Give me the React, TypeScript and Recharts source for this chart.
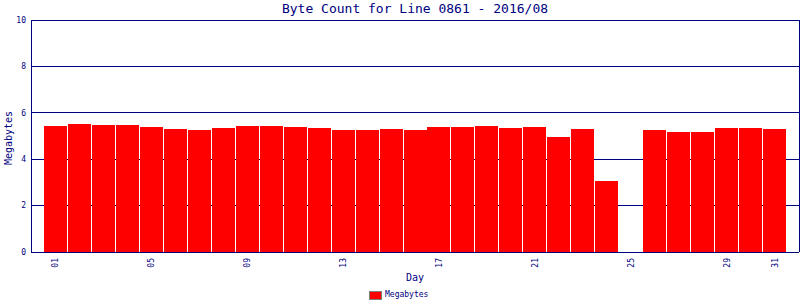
import { BarChart, Bar, XAxis, YAxis, CartesianGrid } from "recharts"

const days = [
  "01", "02", "03", "04", "05", "06", "07", "08", "09", "10",
  "11", "12", "13", "14", "15", "16", "17", "18", "19", "20",
  "21", "22", "23", "24", "25", "26", "27", "28", "29", "30", "31",
]

const megabytes = [
  5.45, 5.52, 5.47, 5.47, 5.39, 5.3, 5.26, 5.34, 5.43, 5.43,
  5.39, 5.34, 5.26, 5.26, 5.3, 5.26, 5.39, 5.39, 5.43, 5.34,
  5.39, 4.96, 5.3, 3.06, 0, 5.26, 5.17, 5.17, 5.34, 5.34, 5.3,
]

const dayTicks = ["01", "05", "09", "13", "17", "21", "25", "29", "31"]
const yTicks = [0, 2, 4, 6, 8, 10]

const data = days.map((d, i) => ({ day: d, mb: megabytes[i] }))

const NAVY = "#000080"
const MONO = "'DejaVu Sans Mono', monospace"

function DayTick({ x, y, payload }: any) {
  return (
    <g transform={`translate(${x},${y})`}>
      <text
        transform="rotate(-90)"
        textAnchor="end"
        dominantBaseline="central"
        fontSize={8}
        fontFamily={MONO}
        fill={NAVY}
      >
        {payload.value}
      </text>
    </g>
  )
}

export default function App() {
  return (
    <div style={{ position: "absolute", left: 0, top: 0, width: 800, height: 300, background: "#fff" }}>
      <style>{`.recharts-surface line, .recharts-surface path { shape-rendering: crispEdges; }`}</style>
      <div style={{ position: "absolute", left: 0, top: 1, width: 830, textAlign: "center", fontFamily: MONO, fontSize: 13, color: NAVY, lineHeight: "15px" }}>
        Byte Count for Line 0861 - 2016/08
      </div>
      <div style={{ position: "absolute", left: 8, top: 138, transform: "translate(-50%, -50%) rotate(-90deg)", fontFamily: MONO, fontSize: 10, color: NAVY, whiteSpace: "nowrap" }}>
        Megabytes
      </div>
      <div style={{ position: "absolute", left: 415, top: 277, transform: "translate(-50%, -50%)", fontFamily: MONO, fontSize: 10, color: NAVY }}>
        Day
      </div>
      {/* legend */}
      <div style={{ position: "absolute", left: 369, top: 290, display: "flex", alignItems: "center", fontFamily: MONO, fontSize: 8, color: NAVY, lineHeight: "10px" }}>
        <span style={{ display: "inline-block", width: 11, height: 7, background: "#ff0000", border: "1px solid #808080", marginRight: 3 }} />
        Megabytes
      </div>
      <BarChart width={800} height={300} data={data} margin={{ top: 20, right: 0, left: 0, bottom: 0 }}>
        <CartesianGrid horizontal vertical={false} stroke={NAVY} strokeOpacity={1} />
        <XAxis
          dataKey="day"
          ticks={dayTicks}
          interval={0}
          height={48}
          padding={{ left: 13, right: 12 }}
          tickSize={0}
          tickMargin={6}
          tick={<DayTick />}
          axisLine={{ stroke: NAVY }}
        />
        <YAxis
          domain={[0, 10]}
          ticks={yTicks}
          width={31}
          tickSize={0}
          tickMargin={5}
          tick={{ fontSize: 8, fontFamily: MONO, fill: NAVY }}
          axisLine={{ stroke: NAVY }}
        />
        <YAxis yAxisId="r" orientation="right" width={1} domain={[0, 10]} tick={false} tickLine={false} axisLine={{ stroke: NAVY }} />
        <Bar dataKey="mb" name="Megabytes" fill="#ff0000" barSize={23} isAnimationActive={false} />
      </BarChart>
    </div>
  )
}
